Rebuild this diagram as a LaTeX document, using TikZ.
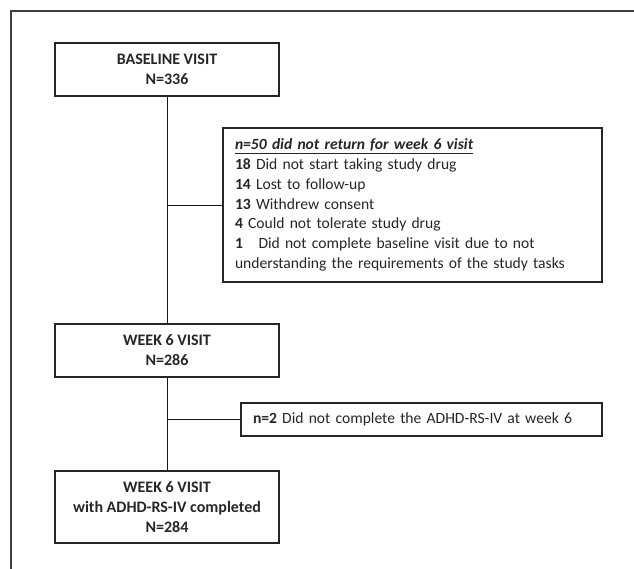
\documentclass[tikz,border=0pt]{standalone}
\usepackage{fontspec}
\setmainfont{Carlito}
\begin{document}
\begin{tikzpicture}[x=1bp,y=-1bp,
  box/.style={draw=black!85, line width=1.1bp, minimum width=224bp, inner sep=0pt, align=center,
    font=\fontsize{16bp}{20bp}\selectfont\bfseries, text=black!85},
  sidebox/.style={draw=black!85, line width=1.1bp, inner sep=0pt,
    font=\fontsize{15.6bp}{19.8bp}\selectfont, text=black!85},
  link/.style={draw=black!90, line width=0.9bp}]
\useasboundingbox (0,0) rectangle (634,569);
\draw[black!75, line width=1.4bp] (634,11) -- (11,11) -- (11,569);
\node[box, minimum height=53bp] (base) at (167,69.5) {BASELINE VISIT\\N=336};
\node[box, minimum height=53bp] (wk6) at (167,350.5) {WEEK 6 VISIT\\N=286};
\node[box, minimum height=72bp] (final) at (167,507) {WEEK 6 VISIT\\with ADHD-RS-IV completed\\N=284};
\node[sidebox, minimum width=379bp, minimum height=154bp, text width=355bp, align=left] (drop) at (412.5,205)
 {\underline{\textbf{\textit{n=50 did not return for week 6 visit}}}\\
  \textbf{18} Did not start taking study drug\\
  \textbf{14} Lost to follow-up\\
  \textbf{13} Withdrew consent\\
  \textbf{4} Could not tolerate study drug\\
  \textbf{1}\ \ \ Did not complete baseline visit due to not\\
  understanding the requirements of the study tasks};
\node[sidebox, minimum width=361bp, minimum height=33bp, text width=337bp, align=left] (n2) at (421.5,419.5)
 {\textbf{n=2} Did not complete the ADHD-RS-IV at week 6};
\coordinate (j1) at (base.south |- drop.west);
\coordinate (j2) at (wk6.south |- n2.west);
\draw[link] (base.south) -- (wk6.north);
\draw[link] (wk6.south) -- (final.north);
\draw[link] (j1) -- (drop.west);
\draw[link] (j2) -- (n2.west);
\end{tikzpicture}
\end{document}
